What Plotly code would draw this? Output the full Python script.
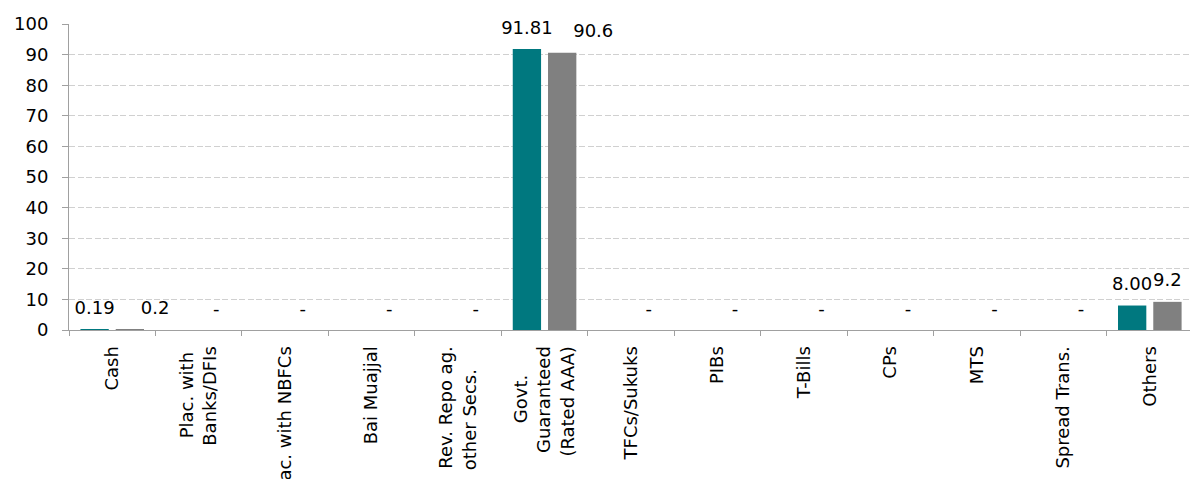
import plotly.graph_objects as go

# ---- data ----
categories = ["Cash", "Plac. with<br>Banks/DFIs", "Plac. with NBFCs", "Bai Muajjal",
              "Rev. Repo ag.<br>other Secs.", "Govt.<br>Guaranteed<br>(Rated AAA)",
              "TFCs/Sukuks", "PIBs", "T-Bills", "CPs", "MTS", "Spread Trans.", "Others"]
current_month = [0.19, None, None, None, None, 91.81, None, None, None, None, None, None, 8.00]
previous_month = [0.2, 0, 0, 0, 0, 90.6, 0, 0, 0, 0, 0, 0, 9.2]
y_ticks = [0, 10, 20, 30, 40, 50, 60, 70, 80, 90, 100]

# ---- styling ----
TEAL = "#00787F"
GREY = "#808080"
AXIS = "#A0A0A0"
GRID = "#D0D0D0"
FONT = "DejaVu Sans"
NB = "\u00a0"

# centre multi-line rotated tick labels (plotly aligns them at the line end)
pad = {"Plac. with<br>Banks/DFIs": ["Plac. with" + NB, "Banks/DFIs"],
       "Rev. Repo ag.<br>other Secs.": ["Rev. Repo ag.", "other Secs." + NB * 4],
       "Govt.<br>Guaranteed<br>(Rated AAA)": ["Govt." + NB * 5, "Guaranteed", "(Rated AAA)"]}
tick_text = ["<br>".join(pad[c]) if c in pad else c for c in categories]

cur_text = ["" if v is None else f"{v:.2f}" for v in current_month]
prev_text = ["-" if v == 0 else f"{v:g}" for v in previous_month]
# labels of the previous-month bars that sit next to a neighbouring label are nudged right
prev_pos = ["top center" if (v == 0 or c is None) else "top right"
            for v, c in zip(previous_month, current_month)]
prev_pos[-1] = "top center"

fig = go.Figure()
fig.add_trace(go.Bar(x=categories, y=current_month, name="Current month",
                     marker=dict(color=TEAL, line=dict(width=0)),
                     offsetgroup="cur", hoverinfo="skip"))
fig.add_trace(go.Bar(x=categories, y=previous_month, name="Previous month",
                     marker=dict(color=GREY, line=dict(width=0)),
                     offsetgroup="prev", hoverinfo="skip"))
fig.add_trace(go.Scatter(x=categories, y=current_month, text=cur_text,
                         mode="markers+text", textposition="top center",
                         marker=dict(size=16, opacity=0), offsetgroup="cur",
                         cliponaxis=False, hoverinfo="skip",
                         textfont=dict(family=FONT, size=18, color="#000000")))
fig.add_trace(go.Scatter(x=categories, y=previous_month, text=prev_text,
                         mode="markers+text", textposition=prev_pos,
                         marker=dict(size=16, opacity=0), offsetgroup="prev",
                         cliponaxis=False, hoverinfo="skip",
                         textfont=dict(family=FONT, size=18, color="#000000")))

fig.update_layout(
    width=1190, height=479,
    margin=dict(l=69, r=0, t=24, b=149, autoexpand=False),
    paper_bgcolor="white", plot_bgcolor="white",
    barmode="group", bargap=0.184, bargroupgap=0.197,
    scattermode="group", scattergap=0.184,
    showlegend=False,
    font=dict(family=FONT, size=18, color="#000000"),
)
fig.update_xaxes(
    type="category", range=[-0.5, 12.465], automargin=False,
    tickvals=categories, ticktext=tick_text, tickangle=-90,
    tickson="boundaries", ticks="outside", ticklen=5, tickcolor=AXIS,
    showline=True, linecolor=AXIS, linewidth=1, showgrid=False,
    ticklabelstandoff=8,
    tickfont=dict(family=FONT, size=18, color="#000000"),
)
fig.update_yaxes(
    range=[0, 100], tickvals=y_ticks, automargin=False,
    ticks="outside", ticklen=6, tickcolor=AXIS,
    showline=True, linecolor=AXIS, linewidth=1,
    showgrid=True, gridcolor=GRID, griddash="6px,2.5px", gridwidth=1, zeroline=False,
    ticklabelstandoff=10,
    tickfont=dict(family=FONT, size=18, color="#000000"),
)

fig.write_html("out.html")
